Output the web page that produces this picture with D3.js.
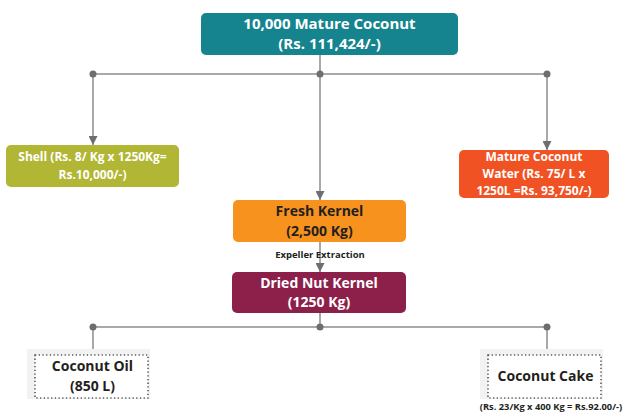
<!DOCTYPE html>
<html>
<head>
<meta charset="utf-8">
<script src="https://cdn.jsdelivr.net/npm/d3@7"></script>
<style>
  body { margin: 0; background: #fff; }
  svg { display: block; font-family: "Open Sans", "Noto Sans", sans-serif; font-weight: bold; }
</style>
</head>
<body>
<div id="chart"></div>
<script>
// flow nodes (text only)
const sourceLines = ["10,000 Mature Coconut", "(Rs. 111,424/-)"];
const shellLines = ["Shell (Rs. 8/ Kg x 1250Kg=", "Rs.10,000/-)"];
const waterLines = ["Mature Coconut", "Water (Rs. 75/ L x", "1250L =Rs. 93,750/-)"];
const freshLines = ["Fresh Kernel", "(2,500 Kg)"];
const driedLines = ["Dried Nut Kernel", "(1250 Kg)"];
const oilLines = ["Coconut Oil", "(850 L)"];
const cakeLines = ["Coconut Cake"];
const processLabel = "Expeller Extraction";
const cakeNote = "(Rs. 23/Kg x 400 Kg = Rs.92.00/-)";

const width = 626, height = 413;
const svg = d3.select("#chart").append("svg")
  .attr("width", width).attr("height", height);

const col = d3.scalePoint().domain(["left", "center", "right"]).range([93, 547]);

const defs = svg.append("defs");
defs.append("marker")
  .attr("id", "arr")
  .attr("viewBox", "0 0 10 10")
  .attr("refX", 10).attr("refY", 5)
  .attr("markerWidth", 9).attr("markerHeight", 9)
  .attr("markerUnits", "userSpaceOnUse")
  .attr("orient", "auto")
  .append("path").attr("d", "M0,0L10,5L0,10Z").attr("fill", "#6d6e71");

// connectors
const lines = svg.append("g");
function hline(y) {
  lines.append("line").attr("x1", col("left")).attr("x2", col("right"))
    .attr("y1", y).attr("y2", y).attr("stroke", "#a7a9ac").attr("stroke-width", 2);
}
function vline(x, y1, y2, arrow) {
  const l = lines.append("line").attr("x1", x).attr("x2", x).attr("y1", y1).attr("y2", y2)
    .attr("stroke", "#8a8c8e").attr("stroke-width", 1.5);
  if (arrow) l.attr("marker-end", "url(#arr)");
}
hline(74);
hline(327);
vline(col("center"), 55, 200, true);
vline(col("left"), 74, 145, true);
vline(col("right"), 74, 150, true);
vline(col("center"), 242, 272, true);
vline(col("center"), 313, 327, false);
vline(col("left"), 327, 355, false);
vline(col("right"), 327, 355, false);

const dots = [74, 327].flatMap(y => col.domain().map(c => ({ x: col(c), y })));
lines.selectAll("circle").data(dots).join("circle")
  .attr("cx", d => d.x).attr("cy", d => d.y).attr("r", 3.5).attr("fill", "#6d6e71");

// boxes
function box(x, y, w, h, fill, textLines, color, size, lh) {
  const g = svg.append("g");
  g.append("rect").attr("x", x).attr("y", y).attr("width", w).attr("height", h)
    .attr("rx", 5).attr("fill", fill);
  const cy = y + h / 2 - (textLines.length - 1) * lh / 2;
  g.selectAll("text").data(textLines).join("text")
    .attr("x", x + w / 2).attr("y", (d, i) => cy + i * lh)
    .attr("dy", "0.35em").attr("text-anchor", "middle")
    .attr("fill", color).attr("font-size", size)
    .text(d => d);
}
box(201, 13, 257, 42, "#15848e", sourceLines, "#fff", 15, 20);
box(6, 145, 173, 42, "#b1b635", shellLines, "#fff", 12, 18);
box(459, 150, 150, 48, "#f15223", waterLines, "#fff", 12, 17);
box(233, 200, 173, 42, "#f7921e", freshLines, "#231f20", 14, 20);
box(232, 272, 174, 41, "#8d1f4b", driedLines, "#fff", 14, 19);

function dotted(x, y, w, h, textLines, lh) {
  const g = svg.append("g");
  g.append("rect").attr("x", x).attr("y", y).attr("width", w).attr("height", h).attr("fill", "#f2f2f2");
  g.append("rect").attr("x", x + 8).attr("y", y + 6).attr("width", w - 10).attr("height", h - 7)
    .attr("fill", "#fff").attr("stroke", "#58595b").attr("stroke-width", 1.6)
    .attr("stroke-dasharray", "1.3,2.4");
  const cy = y + 6 + (h - 7) / 2 - (textLines.length - 1) * lh / 2;
  g.selectAll("text").data(textLines).join("text")
    .attr("x", x + 4 + w / 2).attr("y", (d, i) => cy + i * lh)
    .attr("dy", "0.35em").attr("text-anchor", "middle")
    .attr("fill", "#231f20").attr("font-size", 14)
    .text(d => d);
}
dotted(27, 349, 123, 50, oilLines, 20);
dotted(480, 349, 123, 50, cakeLines, 20);

svg.append("text").attr("x", col("center")).attr("y", 255).attr("dy", "0.35em")
  .attr("text-anchor", "middle").attr("font-size", 9.5).attr("fill", "#231f20")
  .text(processLabel);
svg.append("text").attr("x", 551).attr("y", 407).attr("dy", "0.35em")
  .attr("text-anchor", "middle").attr("font-size", 9.3).attr("fill", "#231f20")
  .text(cakeNote);
</script>
</body>
</html>
